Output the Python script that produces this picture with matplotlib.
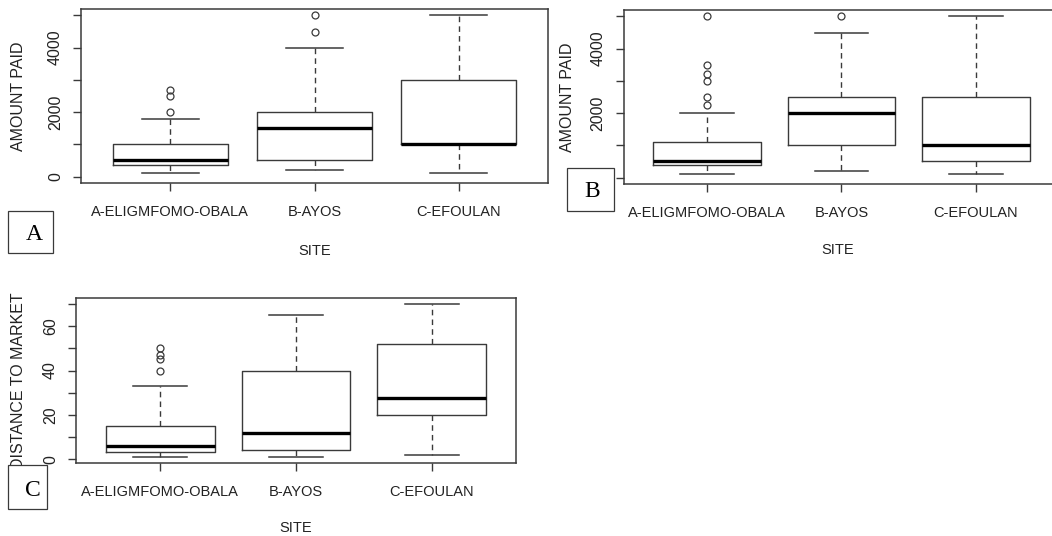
import matplotlib.pyplot as plt
from matplotlib.patches import Rectangle

W, H = 1052, 536

sites = ["A-ELIGMFOMO-OBALA", "B-AYOS", "C-EFOULAN"]

# A: amount paid
a_whislo = [100, 200, 100]
a_q1 = [350, 500, 1000]
a_med = [500, 1500, 1000]
a_q3 = [1000, 2000, 3000]
a_whishi = [1800, 4000, 5000]
a_fliers = [[2000, 2500, 2700], [4500, 5000], []]

# B: amount paid
b_whislo = [100, 200, 100]
b_q1 = [400, 1000, 500]
b_med = [500, 2000, 1000]
b_q3 = [1100, 2500, 2500]
b_whishi = [2000, 4500, 5000]
b_fliers = [[2250, 2500, 3000, 3200, 3500, 5000], [5000], []]

# C: distance to market
c_whislo = [1, 1, 2]
c_q1 = [3, 4, 20]
c_med = [6, 12, 27.5]
c_q3 = [15, 40, 52]
c_whishi = [33, 65, 70]
c_fliers = [[40, 45, 47, 50], [], []]

amount_ticks = [0, 1000, 2000, 3000, 4000, 5000]
amount_labels = ["0", "", "2000", "", "4000", ""]
dist_ticks = [0, 10, 20, 30, 40, 50, 60, 70]
dist_labels = ["0", "", "20", "", "40", "", "60", ""]

LINE = "#3a3a3a"
TXT = "#222222"
SANS = "Liberation Sans"


def px_rect(l, t, r, b):
    return [l / W, 1 - b / H, (r - l) / W, (b - t) / H]


def draw_panel(ax, whislo, q1, med, q3, whishi, fliers, ylim, xlim,
               yticks, ylabels, ylabel, ylab_x, xlab_y):
    stats = []
    for i in range(len(sites)):
        stats.append(dict(whislo=whislo[i], q1=q1[i], med=med[i], q3=q3[i],
                          whishi=whishi[i], fliers=fliers[i]))
    ax.bxp(stats, positions=[1, 2, 3], widths=0.8, capwidths=0.4,
           showfliers=True,
           boxprops=dict(color=LINE, lw=1.0),
           medianprops=dict(color="black", lw=2.4, solid_capstyle="butt"),
           whiskerprops=dict(color=LINE, lw=1.0, linestyle=(0, (4, 3))),
           capprops=dict(color=LINE, lw=1.1),
           flierprops=dict(marker="o", mfc="none", mec=LINE, ms=5, mew=0.9))
    ax.set_xlim(*xlim)
    ax.set_ylim(*ylim)
    ax.set_xticks([1, 2, 3], sites, fontsize=10.5, family=SANS, color=TXT)
    ax.set_yticks(yticks, ylabels, fontsize=11.5, family=SANS, color=TXT,
                  rotation=90, va="center")
    ax.tick_params(axis="both", direction="out", length=6, width=1,
                   color=LINE)
    ax.tick_params(axis="x", pad=10)
    ax.tick_params(axis="y", pad=7)
    for s in ax.spines.values():
        s.set_color(LINE)
        s.set_linewidth(1.1)
    ax.set_xlabel("SITE", fontsize=10.5, family=SANS, color=TXT)
    ax.xaxis.set_label_coords(0.5, xlab_y)
    ax.xaxis.label.set_va("center")
    ax.set_ylabel(ylabel, fontsize=11.5, family=SANS, color=TXT)
    ax.yaxis.set_label_coords(ylab_x, 0.5)
    ax.yaxis.label.set_va("center")


fig = plt.figure(figsize=(W / 100, H / 100), dpi=100)

ax_a = fig.add_axes(px_rect(81, 9, 548, 183))
draw_panel(ax_a, a_whislo, a_q1, a_med, a_q3, a_whishi, a_fliers,
           (-200, 5200), (0.38, 3.62), amount_ticks, amount_labels,
           "AMOUNT PAID", -62 / 467, -(251 - 183) / 174)

ax_b = fig.add_axes(px_rect(623.5, 10, 1052, 184))
draw_panel(ax_b, b_whislo, b_q1, b_med, b_q3, b_whishi, b_fliers,
           (-200, 5200), (0.38, 3.565), amount_ticks, amount_labels,
           "AMOUNT PAID", -56 / 428.5, -(250 - 184) / 174)
ax_b.spines["right"].set_visible(False)

ax_c = fig.add_axes(px_rect(76, 298, 516, 463))
draw_panel(ax_c, c_whislo, c_q1, c_med, c_q3, c_whishi, c_fliers,
           (-1.76, 72.76), (0.38, 3.62), dist_ticks, dist_labels,
           "DISTANCE TO MARKET", -57 / 440, -(528 - 463) / 165)

# panel letters in boxes
letters = [("A", 8.3, 210.7, 52.7, 253.3, 34, 234),
           ("B", 567, 168, 614, 211, 592, 192),
           ("C", 8.3, 465, 46.7, 509, 33, 490)]
for txt, l, t, r, b, cx, cy in letters:
    fig.add_artist(Rectangle((l / W, 1 - b / H), (r - l) / W, (b - t) / H,
                             transform=fig.transFigure, facecolor="white",
                             edgecolor=LINE, lw=0.9, zorder=10))
    fig.text(cx / W, 1 - cy / H, txt, family="Liberation Serif", fontsize=17,
             ha="center", va="center", color="black", zorder=11)

fig.savefig("out.png", dpi=100)
